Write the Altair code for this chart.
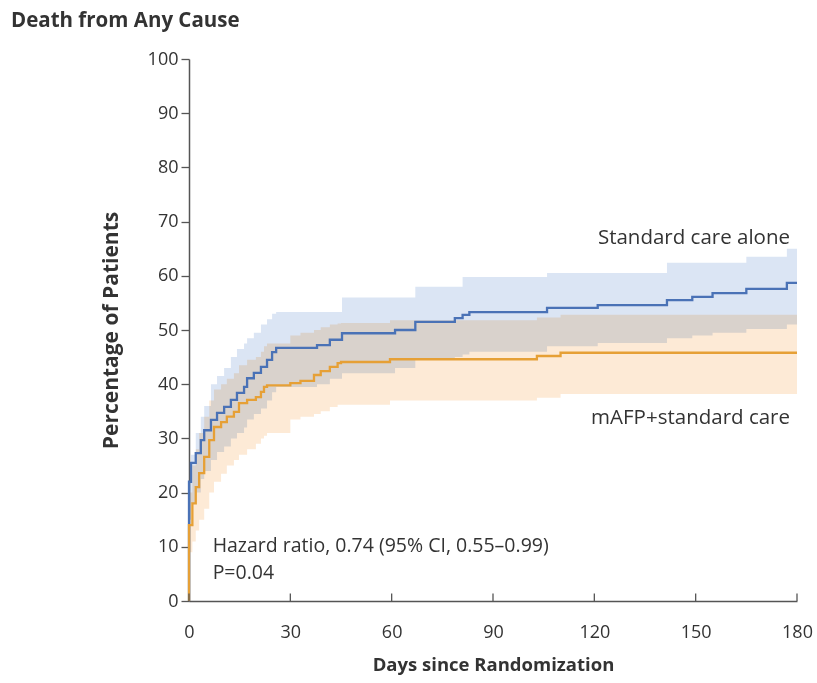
import altair as alt
import pandas as pd

# ---- data ----
std_days = [0, 0.6, 2, 3.5, 4.5, 6.5, 8.3, 10.4, 12.4, 14.2, 16.3, 17.2, 19.2, 21.3, 23.1, 24.6, 25.8,
            37.9, 41.7, 45.3, 61, 67, 78.7, 81, 83, 106, 121, 141.5, 149, 155, 165, 177, 180]
std_vals = [22, 25.5, 27.3, 29.7, 31.5, 33.4, 34.7, 35.8, 37.1, 38.4, 39.5, 41.1, 42.1, 43.2, 44.5, 45.9, 46.7,
            47.2, 48.2, 49.4, 50.0, 51.5, 52.2, 52.8, 53.3, 54.1, 54.6, 55.5, 56.1, 56.8, 57.6, 58.7, 58.7]
std_low = [15, 18, 20, 22.5, 24, 26, 27.5, 28.5, 30, 31, 32, 33.5, 34.5, 35.5, 37, 38.5, 39.5,
           40, 41, 42, 43, 44.5, 45, 45.5, 46, 47, 47.6, 48.5, 49, 49.5, 50.2, 51, 51]
std_high = [22, 27, 31, 34, 36, 40, 41.5, 43, 45, 46.5, 47.5, 48.5, 49.5, 51, 52, 53, 53.3,
            53.3, 53.3, 56, 56, 58, 58, 59.8, 59.8, 60.5, 60.5, 62.4, 62.4, 62.4, 63.5, 65, 65]

mafp_days = [0, 1, 2, 3, 4.5, 6, 7.4, 9.5, 11.2, 13.3, 14.8, 17.2, 19.8, 21.3, 22.2, 23.1,
             30, 33, 37, 39, 41.7, 44, 45, 59.5, 103, 110, 180]
mafp_vals = [14, 18, 21, 23.6, 26.6, 29.7, 32.1, 33, 34, 34.9, 36.5, 37.1, 37.6, 38.6, 39.5, 39.8,
             40.2, 40.6, 41.7, 42.4, 43.2, 43.9, 44.1, 44.6, 45.2, 45.8, 45.8]
mafp_low = [9, 11, 13, 15, 17, 20, 22, 23.5, 25, 26, 27, 28, 29, 30, 30.5, 31,
            33.5, 34, 34.5, 35, 35.8, 36.2, 36.2, 37, 37.5, 38.2, 38.4]
mafp_high = [20, 25, 28, 31, 34, 37, 39, 40, 41, 42, 43.5, 44.5, 45, 46, 47, 47.5,
             49, 49.5, 50, 50.5, 51, 51.2, 51.3, 51.8, 52.3, 52.8, 52.8]

x_ticks = [0, 30, 60, 90, 120, 150, 180]
y_ticks = [0, 10, 20, 30, 40, 50, 60, 70, 80, 90, 100]

FONT = "Open Sans"
TXT = "#333333"
BLUE = "#4a72b6"
ORANGE = "#e6a036"

def line_df(days, vals):
    d = [0] + list(days)
    v = [0] + list(vals)
    return pd.DataFrame({"day": d, "pct": v, "i": list(range(len(d)))})

std_line = line_df(std_days, std_vals)
mafp_line = line_df(mafp_days, mafp_vals)
std_band = pd.DataFrame({"day": std_days, "lo": std_low, "hi": std_high})
mafp_band = pd.DataFrame({"day": mafp_days, "lo": mafp_low, "hi": mafp_high})

xs = alt.Scale(domain=[0, 180], nice=False, zero=False)
ys = alt.Scale(domain=[0, 100], nice=False)

x_enc = alt.X("day:Q", scale=xs,
              axis=alt.Axis(values=x_ticks, title="Days since Randomization", ticks=False,
                            grid=False, labelFontSize=18, labelColor=TXT, labelFont=FONT,
                            labelPadding=22, titleFont=FONT, titleFontSize=18.5, titleFontWeight="bold",
                            titleColor=TXT, titlePadding=14, domainColor="#555555", domainWidth=1.5,
                            labelFlush=False))
y_axis = alt.Axis(values=y_ticks, title="Percentage of Patients", grid=False,
                  labelFontSize=18, labelColor=TXT, labelFont=FONT, tickSize=8, tickColor="#555555",
                  tickWidth=1.3, labelPadding=3, titleFont=FONT, titleFontSize=21,
                  titleFontWeight="bold", titleColor=TXT, titlePadding=26,
                  domainColor="#555555", domainWidth=1.5)

band_std = alt.Chart(std_band).mark_area(interpolate="step-after", color="#dbe5f4", blend="multiply").encode(
    x=x_enc, y=alt.Y("lo:Q", scale=ys, axis=y_axis), y2="hi:Q")
band_mafp = alt.Chart(mafp_band).mark_area(interpolate="step-after", color="#fdead6", blend="multiply").encode(
    x=alt.X("day:Q", scale=xs), y=alt.Y("lo:Q", scale=ys), y2="hi:Q")

line_std = alt.Chart(std_line).mark_line(interpolate="step-after", color=BLUE, strokeWidth=2.3).encode(
    x=alt.X("day:Q", scale=xs), y=alt.Y("pct:Q", scale=ys), order="i:Q")
line_mafp = alt.Chart(mafp_line).mark_line(interpolate="step-after", color=ORANGE, strokeWidth=2.3).encode(
    x=alt.X("day:Q", scale=xs), y=alt.Y("pct:Q", scale=ys), order="i:Q")

xt = pd.DataFrame({"day": x_ticks, "y0": [0] * len(x_ticks), "y1": [1.4] * len(x_ticks)})
tick_rules = alt.Chart(xt).mark_rule(color="#555555", strokeWidth=1.3).encode(
    x=alt.X("day:Q", scale=xs), y=alt.Y("y0:Q", scale=ys), y2="y1:Q")

ann = pd.DataFrame({
    "day": [180, 180, 7, 7],
    "pct": [67, 33.8, 10.1, 5.2],
    "label": ["Standard care alone", "mAFP+standard care",
              "Hazard ratio, 0.74 (95% CI, 0.55\u20130.99)", "P=0.04"],
})
ann_r = alt.Chart(ann.iloc[:2]).mark_text(align="right", baseline="middle", font=FONT, fontSize=20.5,
                                          color=TXT, dx=-7).encode(
    x=alt.X("day:Q", scale=xs), y=alt.Y("pct:Q", scale=ys), text="label:N")
ann_l = alt.Chart(ann.iloc[2:]).mark_text(align="left", baseline="middle", font=FONT, fontSize=19.5,
                                          color=TXT).encode(
    x=alt.X("day:Q", scale=xs), y=alt.Y("pct:Q", scale=ys), text="label:N")

chart = alt.layer(band_std, band_mafp, line_std, line_mafp, tick_rules, ann_r, ann_l).properties(
    width=608, height=542,
    background="white",
    title=alt.TitleParams("Death from Any Cause", anchor="start", frame="group", dx=-178, offset=19,
                          font=FONT, fontSize=20.5, fontWeight="bold", color=TXT),
    autosize=alt.AutoSizeParams(type="none"),
    padding={"left": 189, "top": 59, "right": 20, "bottom": 82},
).configure_view(strokeWidth=0, stroke="transparent")

chart.save("out.html", embed_options={"renderer": "svg", "actions": False})
